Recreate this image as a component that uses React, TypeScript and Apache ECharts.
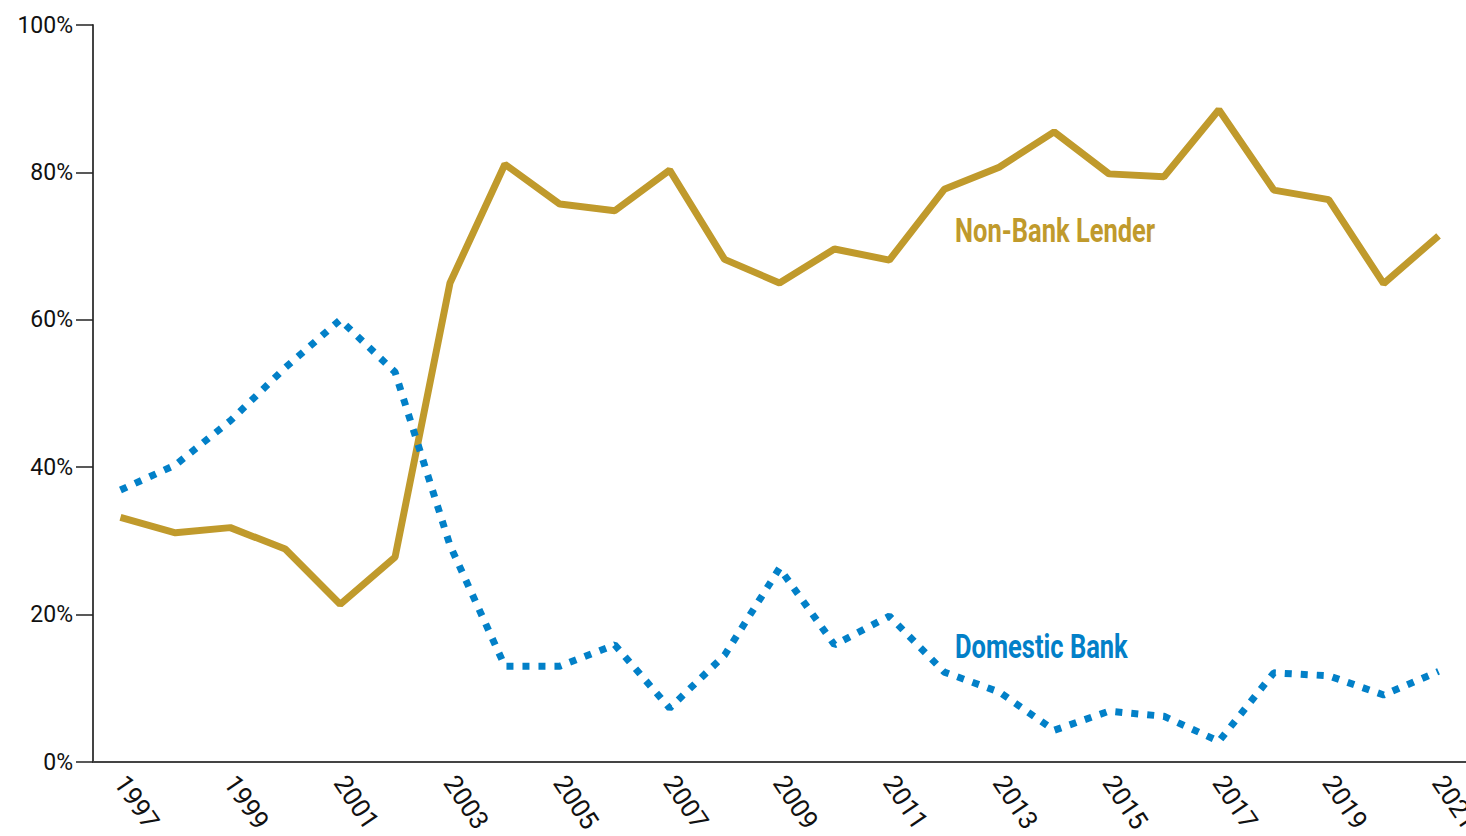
import React, { useEffect, useRef } from "react";
import * as echarts from "echarts";

const years = [
  "1997", "1998", "1999", "2000", "2001", "2002", "2003", "2004", "2005", "2006",
  "2007", "2008", "2009", "2010", "2011", "2012", "2013", "2014", "2015", "2016",
  "2017", "2018", "2019", "2020", "2021",
];
const nonBankLender = [
  33.2, 31.1, 31.8, 28.9, 21.4, 27.8, 65.0, 81.1, 75.7, 74.8,
  80.3, 68.2, 65.0, 69.6, 68.1, 77.7, 80.7, 85.5, 79.8, 79.4,
  88.5, 77.6, 76.3, 64.9, 71.4,
];
const domesticBank = [
  36.9, 40.3, 46.3, 53.5, 60.0, 52.9, 29.4, 13.0, 13.0, 15.9,
  7.3, 14.5, 26.3, 15.9, 19.8, 12.2, 9.5, 4.3, 6.9, 6.2,
  2.8, 12.1, 11.7, 9.1, 12.3,
];
const yTicks = [0, 20, 40, 60, 80, 100];
const seriesNames = ["Non-Bank Lender", "Domestic Bank"];

const GOLD = "#C09A2C";
const BLUE = "#0280C8";
const FONT = "Roboto, 'DejaVu Sans', sans-serif";

export default function App() {
  const ref = useRef<HTMLDivElement>(null);
  useEffect(() => {
    if (!ref.current) return;
    const chart = echarts.init(ref.current, undefined, { renderer: "svg", width: 1466, height: 836 });
    chart.setOption({
      animation: false,
      backgroundColor: "#ffffff",
      grid: { left: 93, right: 0, top: 25, bottom: 74, outerBoundsMode: "none", containLabel: false },
      xAxis: {
        type: "category",
        data: years,
        boundaryGap: true,
        axisLine: { lineStyle: { color: "#444", width: 2 } },
        axisTick: { show: false },
        axisLabel: {
          interval: 1,
          rotate: -56,
          margin: 16,
          color: "#111",
          fontSize: 26,
          fontFamily: FONT,
        },
      },
      yAxis: {
        type: "value",
        min: yTicks[0],
        max: yTicks[yTicks.length - 1],
        interval: 20,
        splitLine: { show: false },
        axisLine: { show: true, lineStyle: { color: "#444", width: 2 } },
        axisTick: { show: true, length: 17, lineStyle: { color: "#222", width: 1.5 } },
        axisLabel: {
          formatter: "{value}%",
          margin: 20,
          color: "#111",
          fontSize: 23,
          fontFamily: FONT,
        },
      },
      series: [
        {
          name: seriesNames[0],
          type: "line",
          data: nonBankLender,
          symbol: "none",
          lineStyle: { color: GOLD, width: 7 },
        },
        {
          name: seriesNames[1],
          type: "line",
          data: domesticBank,
          symbol: "none",
          lineStyle: { color: BLUE, width: 7, type: [7, 9] },
        },
      ],
      graphic: [
        {
          type: "text",
          x: 955,
          y: 230,
          scaleX: 0.75,
          style: {
            text: seriesNames[0],
            fill: GOLD,
            font: `bold 34px ${FONT}`,
            verticalAlign: "middle",
          },
        },
        {
          type: "text",
          x: 955,
          y: 646,
          scaleX: 0.75,
          style: {
            text: seriesNames[1],
            fill: BLUE,
            font: `bold 34px ${FONT}`,
            verticalAlign: "middle",
          },
        },
      ],
    });
    return () => chart.dispose();
  }, []);
  return (
    <div
      ref={ref}
      style={{ position: "fixed", left: 0, top: 0, width: 1466, height: 836, background: "#fff" }}
    />
  );
}
